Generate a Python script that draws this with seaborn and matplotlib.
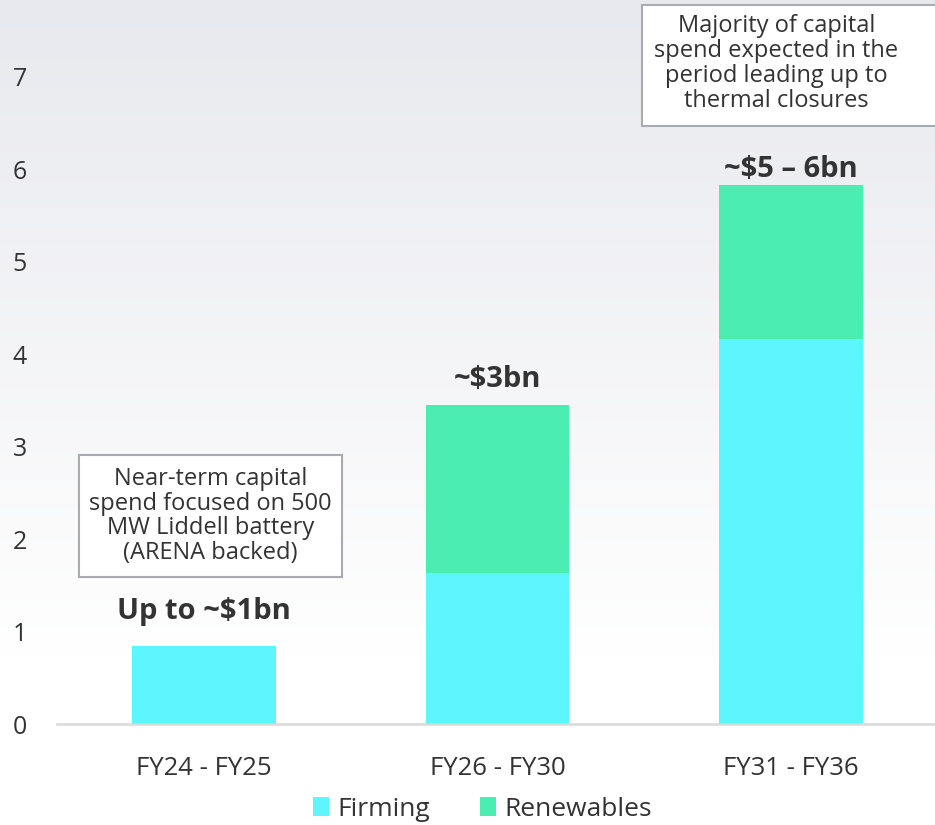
import numpy as np
import pandas as pd
import matplotlib
matplotlib.use("Agg")
import matplotlib.pyplot as plt
import seaborn as sns
from matplotlib.patches import Rectangle, Patch

periods = ["FY24 - FY25", "FY26 - FY30", "FY31 - FY36"]
firming = [0.84, 1.63, 4.16]
renewables = [0.0, 1.82, 1.67]
bar_labels = ["Up to ~$1bn", "~$3bn", "~$5 – 6bn"]
yticks = [0, 1, 2, 3, 4, 5, 6, 7]
note_left = "Near-term capital\nspend focused on 500\nMW Liddell battery\n(ARENA backed)"
note_right = "Majority of capital\nspend expected in the\nperiod leading up to\nthermal closures"

c_firm = "#5DF5FE"
c_ren = "#4CEDB3"
txt = "#333333"

sns.set_theme(style="white")
plt.rcParams["font.family"] = ["Open Sans", "DejaVu Sans"]

fig = plt.figure(figsize=(9.35, 8.25), dpi=100)

# gradient background
bg = fig.add_axes([0, 0, 1, 1], zorder=-10)
grad = np.linspace(0, 1, 256).reshape(-1, 1)
top = np.array([0xE8, 0xE9, 0xEE]) / 255.0
bot = np.array([1.0, 1.0, 1.0])
t = np.clip(grad * 1.25, 0, 1)
img = top * (1 - t)[..., None] + bot * t[..., None]
img = img.reshape(256, 1, 3)
bg.imshow(img, aspect="auto", extent=[0, 1, 0, 1], origin="upper")
bg.axis("off")

ax = fig.add_axes([0.061, 0.1224, 0.939, 0.8776])
ax.set_facecolor("none")

df = pd.DataFrame({"period": periods, "firming": firming, "renewables": renewables})
df["total"] = df["firming"] + df["renewables"]

sns.barplot(data=df, x="period", y="total", color=c_ren, width=0.49,
            saturation=1, ax=ax, linewidth=0)
sns.barplot(data=df, x="period", y="firming", color=c_firm, width=0.49,
            saturation=1, ax=ax, linewidth=0)

ax.set_xlim(-0.5, 2.49)
ax.set_ylim(0, 7.83)
ax.set_yticks(yticks)
ax.set_xlabel("")
ax.set_ylabel("")
for s in ["top", "right", "left"]:
    ax.spines[s].set_visible(False)
ax.spines["bottom"].set_color("#D9D9D9")
ax.spines["bottom"].set_linewidth(1.8)
ax.tick_params(axis="y", length=0, pad=32, labelsize=18, labelcolor=txt)
ax.tick_params(axis="x", length=0, pad=23, labelsize=18.5, labelcolor=txt)
for lab in ax.get_yticklabels():
    lab.set_horizontalalignment("left")
ax.grid(False)

# bar total labels
label_y = [1.22, 3.73, 6.0]
for i, (lab, yv) in enumerate(zip(bar_labels, label_y)):
    ax.text(i, yv, lab, ha="center", va="center", fontsize=21,
            fontweight="bold", color=txt)

# note boxes
ax.add_patch(Rectangle((-0.425, 1.59), 0.894, 1.32, facecolor="white",
                       edgecolor="#A9ABB0", linewidth=1.5, zorder=3))
ax.text(0.022, 2.25, note_left, ha="center", va="center", fontsize=17,
        color=txt, linespacing=1.05, zorder=4)
ax.add_patch(Rectangle((1.493, 6.47), 1.1, 1.31, facecolor="white",
                       edgecolor="#A9ABB0", linewidth=1.5, zorder=3,
                       clip_on=False))
ax.text(1.95, 7.14, note_right, ha="center", va="center", fontsize=17,
        color=txt, linespacing=1.05, zorder=4)

handles = [Patch(facecolor=c_firm, edgecolor="none"),
           Patch(facecolor=c_ren, edgecolor="none")]
fig.legend(handles, ["Firming", "Renewables"], loc="center",
           bbox_to_anchor=(0.516, 0.019), ncol=2, frameon=False,
           fontsize=19, handlelength=0.62, handleheight=0.7,
           columnspacing=1.9, handletextpad=0.3, labelcolor=txt)

fig.savefig("out.png", dpi=100)
